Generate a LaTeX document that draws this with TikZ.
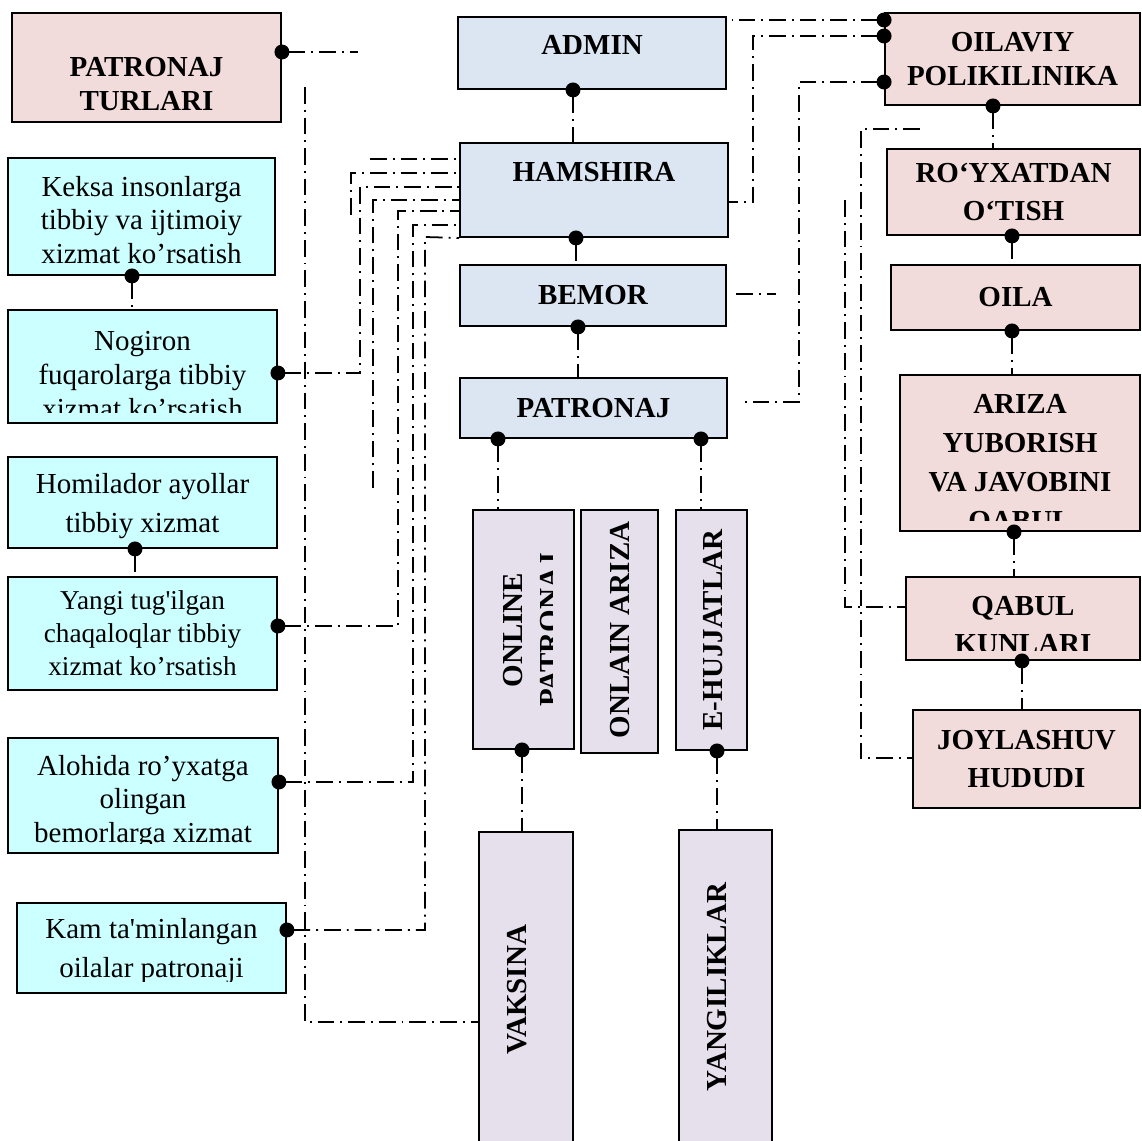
\documentclass[tikz,border=0pt]{standalone}
\usepackage{fontspec}
\setmainfont{Liberation Serif}
\usepackage{tikz}
\usetikzlibrary{arrows.meta}
\definecolor{boxpink}{HTML}{F2DCDB}
\definecolor{boxblue}{HTML}{DCE6F2}
\definecolor{boxcyan}{HTML}{CCFFFF}
\definecolor{boxlilac}{HTML}{E5E0EC}

\begin{document}
\begin{tikzpicture}[
  x=0.02cm, y=-0.02cm,
  box/.style={draw=black, line width=1.1pt, inner sep=0pt, align=center},
  pinkbox/.style={box, fill=boxpink, font=\fontsize{16.5}{22}\selectfont\bfseries},
  bluebox/.style={box, fill=boxblue, font=\fontsize{16.5}{19.3}\selectfont\bfseries},
  cyanbox/.style={box, fill=boxcyan, font=\fontsize{16.5}{19.3}\selectfont},
  lilacbox/.style={box, fill=boxlilac},
  wh/.style 2 args={minimum width=#1, minimum height=#2},
  btxt/.style={inner sep=0pt, align=center, font=\fontsize{16.5}{19.3}\selectfont\bfseries},
  ntxt/.style={inner sep=0pt, align=center, font=\fontsize{16.5}{19.3}\selectfont},
  vtxt/.style={btxt, rotate=90},
  link/.style={line width=1pt, dash pattern=on 9.5pt off 3.4pt on 1.1pt off 3.4pt},
  dotlink/.style={link, arrows={Circle[length=8.5pt]-}, shorten <=-4.25pt}
]
\useasboundingbox (0,0) rectangle (1142,1141);
\fill[white] (0,0) rectangle (1142,1141);
\clip (0,0) rectangle (1142,1141);

% left column
\node[pinkbox, wh={5.38cm}{2.18cm}] (tur) at (146.5,67.5) {};
\node[btxt] (tur-t) at (146.5,84) {PATRONAJ\\TURLARI};
\node[cyanbox, wh={5.34cm}{2.34cm}] (kek) at (141.5,216.5) {};
\node[ntxt] (kek-t) at (141.5,220) {Keksa insonlarga\\tibbiy va ijtimoiy\\xizmat ko’rsatish};
\node[cyanbox, wh={5.38cm}{2.26cm}] (nog) at (142.5,366.5) {};
\begin{scope}
  \clip (8,310) rectangle (277,413);
  \node[ntxt] (nog-t) at (142.5,375) {Nogiron\\fuqarolarga tibbiy\\xizmat ko’rsatish};
\end{scope}
\node[cyanbox, wh={5.38cm}{1.82cm}] (hom) at (142.5,502.5) {};
\node[ntxt, font=\fontsize{16.5}{22}\selectfont] (hom-t) at (142.5,506) {Homilador ayollar\\tibbiy xizmat};
\node[cyanbox, wh={5.38cm}{2.26cm}, font=\fontsize{15.5}{18.7}\selectfont] (yan) at (142.5,633.5) {Yangi tug\textquotesingle ilgan\\chaqaloqlar tibbiy\\xizmat ko’rsatish};
\node[cyanbox, wh={5.40cm}{2.30cm}] (alo) at (143,795.5) {};
\begin{scope}
  \clip (8,738) rectangle (278,843);
  \node[ntxt, font=\fontsize{16.5}{19}\selectfont] (alo-t) at (143,802) {Alohida ro’yxatga\\olingan\\bemorlarga xizmat};
\end{scope}
\node[cyanbox, wh={5.38cm}{1.80cm}] (kam) at (151.5,948) {};
\begin{scope}
  \clip (17,903) rectangle (286,981);
  \node[ntxt, font=\fontsize{16.5}{22.7}\selectfont] (kam-t) at (151.5,951) {Kam ta\textquotesingle minlangan\\oilalar patronaji};
\end{scope}

% middle column
\node[bluebox, wh={5.36cm}{1.44cm}] (adm) at (592,53) {};
\node[btxt] (adm-t) at (592,44.5) {ADMIN};
\node[bluebox, wh={5.36cm}{1.88cm}] (ham) at (594,190) {};
\node[btxt] (ham-t) at (594,172.5) {HAMSHIRA};
\node[bluebox, wh={5.32cm}{1.22cm}] (bem) at (593,295.5) {BEMOR};
\node[bluebox, wh={5.34cm}{1.20cm}] (pat) at (593.5,408) {PATRONAJ};

\node[lilacbox, wh={2.02cm}{4.78cm}] (onl) at (523.5,629.5) {};
\begin{scope}
  \clip (473,510) rectangle (552,749);
  \node[vtxt, font=\fontsize{16.5}{21.5}\selectfont\bfseries] (onl-t) at (531.5,630) {ONLINE\\PATRONAJ};
\end{scope}
\node[lilacbox, wh={1.54cm}{4.86cm}] (ona) at (619.5,631.5) {};
\node[vtxt] (ona-t) at (620,630) {ONLAIN ARIZA};
\node[lilacbox, wh={1.42cm}{4.80cm}] (ehu) at (711.5,630) {};
\node[vtxt] (ehu-t) at (713,630) {E-HUJJATLAR};
\node[lilacbox, wh={1.88cm}{6.60cm}] (vak) at (526,997) {};
\node[vtxt] (vak-t) at (517,990) {VAKSINA};
\node[lilacbox, wh={1.86cm}{6.64cm}] (yng) at (725.5,996) {};
\node[vtxt] (yng-t) at (717,987) {YANGILIKLAR};

% right column
\node[pinkbox, wh={5.10cm}{1.84cm}, font=\fontsize{16.5}{19.8}\selectfont\bfseries] (oil) at (1012.5,59) {OILAVIY\\POLIKILINIKA};
\node[pinkbox, wh={5.06cm}{1.72cm}] (roy) at (1013.5,192) {RO‘YXATDAN\\O‘TISH};
\node[pinkbox, wh={4.98cm}{1.30cm}] (oila) at (1015.5,297.5) {OILA};
\node[pinkbox, wh={4.80cm}{3.12cm}] (ari) at (1020,453) {};
\begin{scope}
  \clip (900,375) rectangle (1140,521);
  \node[btxt, font=\fontsize{16.5}{22.3}\selectfont\bfseries] (ari-t) at (1020,465) {ARIZA\\YUBORISH\\VA JAVOBINI\\QABUL};
\end{scope}
\node[pinkbox, wh={4.68cm}{1.66cm}] (qab) at (1023,618.5) {};
\begin{scope}
  \clip (906,577) rectangle (1140,650);
  \node[btxt, font=\fontsize{16.5}{22}\selectfont\bfseries] (qab-t) at (1023,625) {QABUL\\KUNLARI};
\end{scope}
\node[pinkbox, wh={4.54cm}{1.96cm}] (joy) at (1026.5,759) {JOYLASHUV\\HUDUDI};

% loose ends
\coordinate (tur-end) at (358,52);
\coordinate (tur-top) at (305,87);
\coordinate (e1) at (370,159);
\coordinate (f1) at (351,215);
\coordinate (g1) at (373,488);
\coordinate (s1) at (732,20);
\coordinate (u1) at (736,294);
\coordinate (u2) at (776,294);
\coordinate (v1) at (745,402);
\coordinate (w1) at (920,129);
\coordinate (x1) at (845,200);

% left links
\draw[dotlink] (tur.east |- 0,52) -- (tur-end);
\draw[link] (tur-top) |- (vak.west |- 0,1022);
\draw[dotlink] (kek.south -| 132,0) -- (nog.north -| 132,0);
\draw[dotlink] (hom.south -| 135,0) -- (yan.north -| 135,0);
\draw[link] (e1) -- (ham.west |- e1);
\draw[link] (f1) |- (ham.west |- 0,173);
\draw[dotlink] (nog.east |- 0,373) -| (360,187) -- (ham.west |- 0,187);
\draw[link] (g1) |- (ham.west |- 0,200);
\draw[dotlink] (yan.east |- 0,626) -| (398,211) -- (ham.west |- 0,211);
\draw[dotlink] (alo.east |- 0,782) -| (413,225) -- (ham.west |- 0,225);
\draw[dotlink] (kam.east |- 0,930) -| (425,237) -- (ham.south west);

% middle links
\draw[dotlink] (adm.south -| 573,0) -- (ham.north -| 573,0);
\draw[dotlink] (ham.south -| 576,0) -- (bem.north -| 576,0);
\draw[dotlink] (bem.south -| 578,0) -- (pat.north -| 578,0);
\draw[dotlink] (pat.south -| 498,0) -- (onl.north -| 498,0);
\draw[dotlink] (pat.south -| 701,0) -- (ehu.north -| 701,0);
\draw[dotlink] (onl.south -| 522,0) -- (vak.north -| 522,0);
\draw[dotlink] (ehu.south -| 717,0) -- (yng.north -| 717,0);

% right links
\draw[dotlink] (oil.west |- 0,20) -- (s1);
\draw[dotlink] (oil.west |- 0,36) -| (753,202) -- (ham.east |- 0,202);
\draw[link] (u1) -- (u2);
\draw[dotlink] (oil.west |- 0,82) -| (799,402) -- (v1);
\draw[link] (w1) -- (861,129) |- (joy.west |- 0,758);
\draw[link] (x1) |- (qab.west |- 0,607);
\draw[dotlink] (oil.south -| 993,0) -- (roy.north -| 993,0);
\draw[dotlink] (roy.south -| 1012,0) -- (oila.north -| 1012,0);
\draw[dotlink] (oila.south -| 1012,0) -- (ari.north -| 1012,0);
\draw[dotlink] (ari.south -| 1014,0) -- (qab.north -| 1014,0);
\draw[dotlink] (qab.south -| 1022,0) -- (joy.north -| 1022,0);
\end{tikzpicture}
\end{document}
